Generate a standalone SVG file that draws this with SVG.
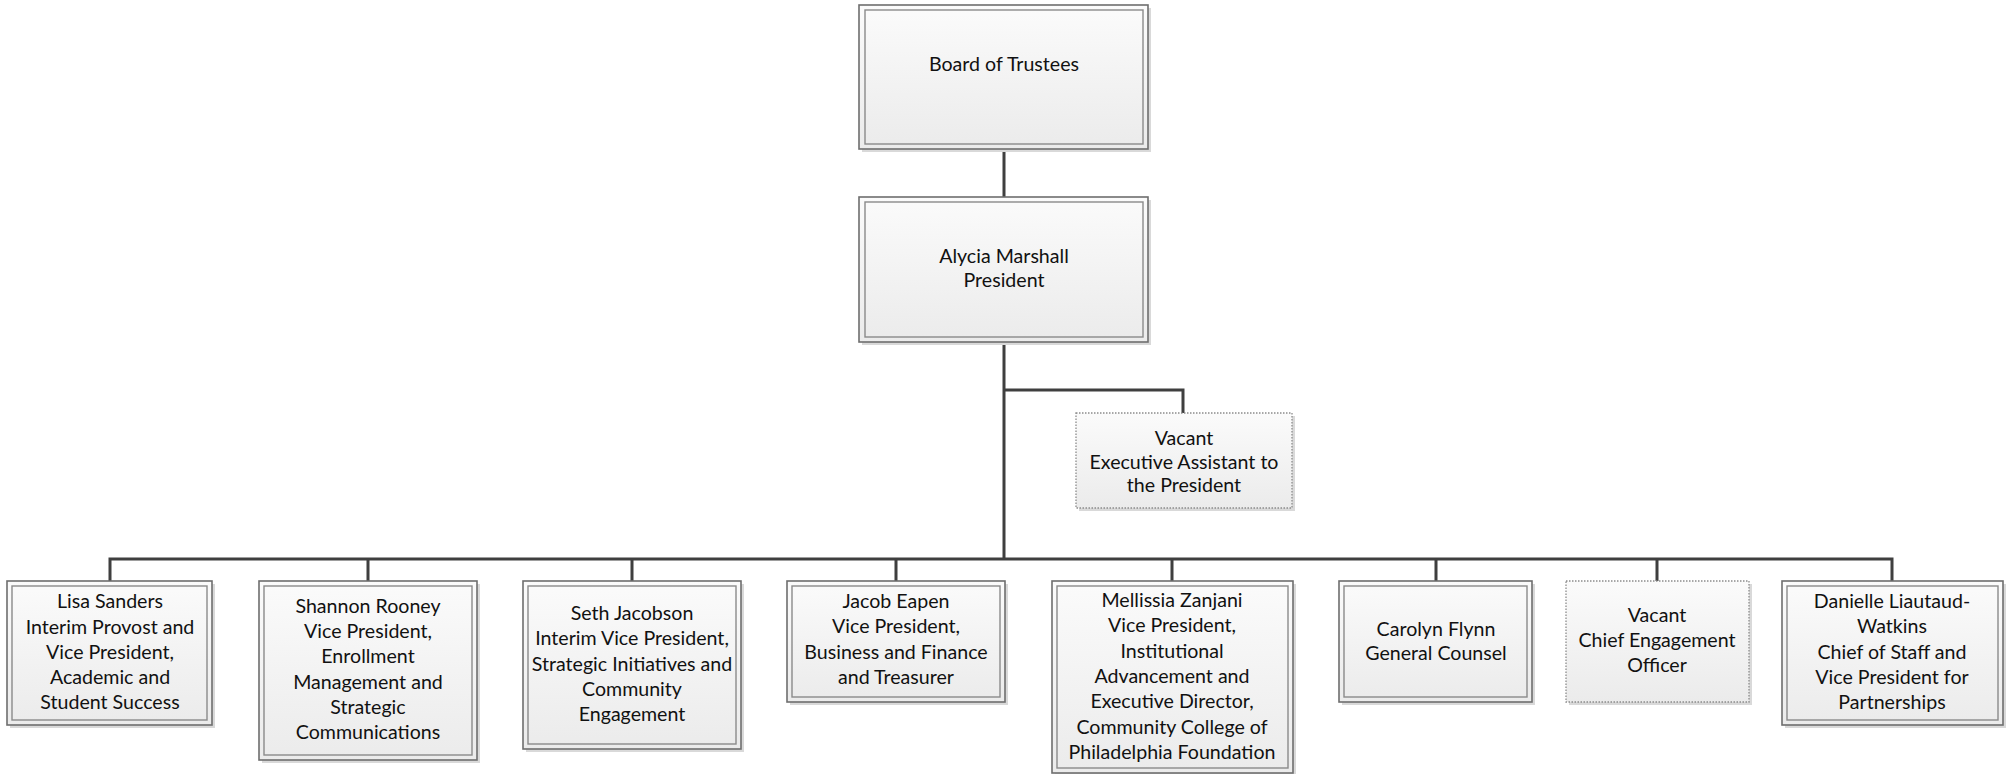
<svg xmlns="http://www.w3.org/2000/svg" width="2013" height="774" viewBox="0 0 2013 774">
<defs>
<linearGradient id="g" x1="0" y1="0" x2="0" y2="1">
<stop offset="0" stop-color="#fbfbfb"/>
<stop offset="1" stop-color="#ebebeb"/>
</linearGradient>
</defs>
<style>
.sh{fill:#d9d9d9}
.o{fill:url(#g);stroke:#6e6e6e;stroke-width:1.6}
.i{fill:none;stroke:#8a8a8a;stroke-width:1.4}
.d{fill:url(#g);stroke:#8c8c8c;stroke-width:1.3;stroke-dasharray:1.5 1.5}
.t{font-family:Lato,"Liberation Sans",sans-serif;font-size:19.6px;fill:#111;text-anchor:middle}
.c{fill:none;stroke:#3f3f3f;stroke-width:3}
</style>
<rect width="2013" height="774" fill="#fff"/>
<g id="connectors">
<path class="c" d="M1004,149V197M1004,342V559M1004,390H1183V413"/>
<path class="c" d="M110,581V559H1892V581M368,559V581M632,559V581M896,559V581M1172,559V581M1436,559V581M1657,559V581"/>
</g>
<g id="board">
<rect class="sh" x="862" y="8" width="289" height="144"/>
<rect class="o" x="859" y="5" width="289" height="144"/>
<rect class="i" x="865" y="10" width="278" height="134"/>
<text class="t" x="1004" y="71">Board of Trustees</text>
</g>
<g id="president">
<rect class="sh" x="862" y="200" width="289" height="145"/>
<rect class="o" x="859" y="197" width="289" height="145"/>
<rect class="i" x="865" y="202" width="278" height="135"/>
<text class="t" x="1004" y="263">Alycia Marshall</text>
<text class="t" x="1004" y="287">President</text>
</g>
<g id="exec-assistant">
<rect class="sh" x="1079" y="416" width="216" height="95"/>
<rect class="d" x="1076" y="413" width="216" height="95"/>
<text class="t" x="1184" y="445">Vacant</text>
<text class="t" x="1184" y="469">Executive Assistant to</text>
<text class="t" x="1184" y="492">the President</text>
</g>
<g id="lisa">
<rect class="sh" x="10" y="584" width="205" height="144"/>
<rect class="o" x="7" y="581" width="205" height="144"/>
<rect class="i" x="12" y="586" width="195" height="134"/>
<text class="t" x="110" y="608">Lisa Sanders</text>
<text class="t" x="110" y="634">Interim Provost and</text>
<text class="t" x="110" y="659">Vice President,</text>
<text class="t" x="110" y="684">Academic and</text>
<text class="t" x="110" y="709">Student Success</text>
</g>
<g id="shannon">
<rect class="sh" x="262" y="584" width="218" height="179"/>
<rect class="o" x="259" y="581" width="218" height="179"/>
<rect class="i" x="264" y="586" width="208" height="169"/>
<text class="t" x="368" y="613">Shannon Rooney</text>
<text class="t" x="368" y="638">Vice President,</text>
<text class="t" x="368" y="663">Enrollment</text>
<text class="t" x="368" y="689">Management and</text>
<text class="t" x="368" y="714">Strategic</text>
<text class="t" x="368" y="739">Communications</text>
</g>
<g id="seth">
<rect class="sh" x="526" y="584" width="218" height="168"/>
<rect class="o" x="523" y="581" width="218" height="168"/>
<rect class="i" x="528" y="586" width="208" height="158"/>
<text class="t" x="632" y="620">Seth Jacobson</text>
<text class="t" x="632" y="645">Interim Vice President,</text>
<text class="t" x="632" y="671">Strategic Initiatives and</text>
<text class="t" x="632" y="696">Community</text>
<text class="t" x="632" y="721">Engagement</text>
</g>
<g id="jacob">
<rect class="sh" x="790" y="584" width="218" height="121"/>
<rect class="o" x="787" y="581" width="218" height="121"/>
<rect class="i" x="792" y="586" width="208" height="111"/>
<text class="t" x="896" y="608">Jacob Eapen</text>
<text class="t" x="896" y="633">Vice President,</text>
<text class="t" x="896" y="659">Business and Finance</text>
<text class="t" x="896" y="684">and Treasurer</text>
</g>
<g id="mellissia">
<rect class="sh" x="1055" y="584" width="241" height="192"/>
<rect class="o" x="1052" y="581" width="241" height="192"/>
<rect class="i" x="1057" y="586" width="231" height="182"/>
<text class="t" x="1172" y="607">Mellissia Zanjani</text>
<text class="t" x="1172" y="632">Vice President,</text>
<text class="t" x="1172" y="658">Institutional</text>
<text class="t" x="1172" y="683">Advancement and</text>
<text class="t" x="1172" y="708">Executive Director,</text>
<text class="t" x="1172" y="734">Community College of</text>
<text class="t" x="1172" y="759">Philadelphia Foundation</text>
</g>
<g id="carolyn">
<rect class="sh" x="1342" y="584" width="193" height="121"/>
<rect class="o" x="1339" y="581" width="193" height="121"/>
<rect class="i" x="1344" y="586" width="183" height="111"/>
<text class="t" x="1436" y="636">Carolyn Flynn</text>
<text class="t" x="1436" y="660">General Counsel</text>
</g>
<g id="chief-engagement">
<rect class="sh" x="1569" y="584" width="183" height="121"/>
<rect class="d" x="1566" y="581" width="183" height="121"/>
<text class="t" x="1657" y="622">Vacant</text>
<text class="t" x="1657" y="647">Chief Engagement</text>
<text class="t" x="1657" y="672">Officer</text>
</g>
<g id="danielle">
<rect class="sh" x="1785" y="584" width="221" height="144"/>
<rect class="o" x="1782" y="581" width="221" height="144"/>
<rect class="i" x="1787" y="586" width="211" height="134"/>
<text class="t" x="1892" y="608">Danielle Liautaud-</text>
<text class="t" x="1892" y="633">Watkins</text>
<text class="t" x="1892" y="659">Chief of Staff and</text>
<text class="t" x="1892" y="684">Vice President for</text>
<text class="t" x="1892" y="709">Partnerships</text>
</g>
</svg>
